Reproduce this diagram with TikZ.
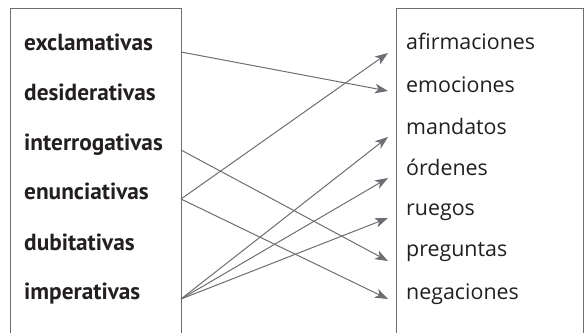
\documentclass[tikz,border=0pt]{standalone}
\usepackage{fontspec}
\setmainfont{Open Sans}
\newfontfamily\ptsans{PT Sans}
\usetikzlibrary{arrows.meta}
\definecolor{gris}{RGB}{109,110,113}
\definecolor{tinta}{RGB}{35,31,32}
\tikzset{
  tipo/.style={anchor=mid west,inner sep=0pt,font=\fontsize{23.3}{27}\ptsans\bfseries,text=tinta},
  valor/.style={anchor=mid west,inner sep=0pt,font=\fontsize{21.4}{25}\selectfont,text=tinta},
  flecha/.style={gris,line width=1pt,-{Stealth[length=13pt,width=9.5pt,inset=3.5pt]}}
}
\begin{document}
\begin{tikzpicture}[x=1pt,y=-1pt]
        \useasboundingbox (0,0) rectangle (586,333);
        \draw[gris,line width=0.8pt] (10,333) -- (10,8) -- (181,8) -- (181,333); % caja izquierda
        \draw[gris,line width=0.8pt] (396,333) -- (396,8) -- (583,8) -- (583,333); % caja derecha
        % tipos de oraciones
        \node[tipo] (excl) at (24,48) {exclamativas};
        \node[tipo] (desi) at (24,98) {desiderativas};
        \node[tipo] (inte) at (24,148) {interrogativas};
        \node[tipo] (enun) at (24,197) {enunciativas};
        \node[tipo] (dubi) at (24,248) {dubitativas};
        \node[tipo] (impe) at (24,297) {imperativas};
        % lo que expresan
        \node[valor] (afir) at (406,47) {afirmaciones};
        \node[valor] (emoc) at (406,90) {emociones};
        \node[valor] (mand) at (406,132) {mandatos};
        \node[valor] (orde) at (406,173) {órdenes};
        \node[valor] (rueg) at (406,213) {ruegos};
        \node[valor] (preg) at (406,254) {preguntas};
        \node[valor] (nega) at (406,297) {negaciones};
        % extremos de las flechas
        \coordinate (a-excl) at (181,52);
        \coordinate (a-inte) at (181,150);
        \coordinate (a-enun) at (181,199);
        \coordinate (a-impe) at (181,299);
        \coordinate (b-afir) at (388,53);
        \coordinate (b-emoc) at (388,91);
        \coordinate (b-mand) at (388,137);
        \coordinate (b-orde) at (388,178);
        \coordinate (b-rueg) at (388,218);
        \coordinate (b-preg) at (388,261);
        \coordinate (b-nega) at (388,299);
        \draw[flecha] (a-excl) -- (b-emoc);
        \draw[flecha] (a-inte) -- (b-preg);
        \draw[flecha] (a-enun) -- (b-afir);
        \draw[flecha] (a-enun) -- (b-nega);
        \draw[flecha] (a-impe) -- (b-mand);
        \draw[flecha] (a-impe) -- (b-orde);
        \draw[flecha] (a-impe) -- (b-rueg);
\end{tikzpicture}
\end{document}
